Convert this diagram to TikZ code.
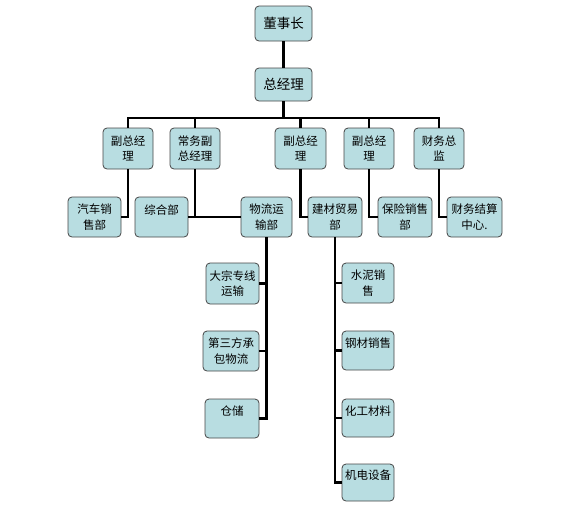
\documentclass[tikz,border=0pt]{standalone}
\usepackage{fontspec}
\newfontfamily\cjk{Noto Sans CJK SC}
\usepackage{xcolor}
\usepackage{tikz}
\usetikzlibrary{positioning}

\definecolor{boxfill}{RGB}{184,221,225}
\definecolor{boxline}{RGB}{70,70,70}

\begin{document}
\begin{tikzpicture}[
    x=1pt, y=-1pt,
    unit/.style={rectangle, rounded corners=4pt, draw=boxline, line width=0.8pt, fill=boxfill,
        align=center, inner sep=1pt, font=\cjk\fontsize{11.5pt}{15.5pt}\selectfont},
    top/.style={unit, font=\cjk\fontsize{13.5pt}{16pt}\selectfont},
    link/.style={line width=2.2pt, black}
]
  \useasboundingbox (0,0) rectangle (569,525);

  % Top levels
  \node[top, minimum width=57pt, minimum height=35pt] (dsz) at (283.5,23.5) {董事长};
  \node[top, minimum width=57pt, minimum height=33pt] (zjl) at (283.5,84.5) {总经理};
  \coordinate (bus) at (283.5,118);

  % Managers
  \node[unit, minimum width=50pt, minimum height=41pt] (fz1) at (128,148.5) {副总经\\理};
  \node[unit, minimum width=50pt, minimum height=41pt] (cwf) at (195,148.5) {常务副\\总经理};
  \node[unit, minimum width=51pt, minimum height=41pt] (fz2) at (300.5,148.5) {副总经\\理};
  \node[unit, minimum width=50pt, minimum height=41pt] (fz3) at (369,148.5) {副总经\\理};
  \node[unit, minimum width=50pt, minimum height=41pt] (cwzj) at (439,148.5) {财务总\\监};

  % Departments
  \node[unit, minimum width=53pt, minimum height=40pt] (qcxs) at (94.5,217) {汽车销\\售部};
  \node[unit, minimum width=53pt, minimum height=40pt] (zhb) at (161.5,217) {综合部\\~};
  \node[unit, minimum width=51pt, minimum height=40pt] (wlys) at (266.5,217) {物流运\\输部};
  \node[unit, minimum width=54pt, minimum height=40pt] (jcmy) at (335,217) {建材贸易\\部};
  \node[unit, minimum width=54pt, minimum height=40pt] (bxxs) at (405,217) {保险销售\\部};
  \node[unit, minimum width=55pt, minimum height=40pt] (cwjs) at (474.5,217) {财务结算\\中心.};

  % Logistics branch
  \node[unit, minimum width=53pt, minimum height=41pt] (dzzx) at (232.5,283.5) {大宗专线\\运输};
  \node[unit, minimum width=56pt, minimum height=40pt] (dsf) at (231,351) {第三方承\\包物流};
  \node[unit, minimum width=54pt, minimum height=39pt] (cc) at (232,418.5) {仓储\\~};

  % Building materials branch
  \node[unit, minimum width=52pt, minimum height=40pt] (sn) at (368,283) {水泥销\\售};
  \node[unit, minimum width=52pt, minimum height=39pt] (gc) at (368,350.5) {钢材销售\\~};
  \node[unit, minimum width=52pt, minimum height=38pt] (hg) at (368,418) {化工材料\\~};
  \node[unit, minimum width=52pt, minimum height=37pt] (jd) at (368,482.5) {机电设备\\~};

  % Connectors
  \draw[link] (dsz) -- (zjl);
  \draw[link] (zjl) -- (bus);
  \foreach \m in {fz1,cwf,fz2,fz3,cwzj}
    \draw[link] (bus) -| (\m);

  \draw[link] (fz1.south) |- (qcxs.east);
  \draw[link] (cwf.south) |- (zhb.east);
  \draw[link] (cwf.south) |- (wlys.west);
  \draw[link] (fz2.south) |- (jcmy.west);
  \draw[link] (fz3.south) |- (bxxs.west);
  \draw[link] (cwzj.south) |- (cwjs.west);

  \foreach \d in {dzzx,dsf,cc}
    \draw[link] (wlys.south) |- (\d.east);
  \foreach \d in {sn,gc,hg,jd}
    \draw[link] (jcmy.south) |- (\d.west);
\end{tikzpicture}
\end{document}
